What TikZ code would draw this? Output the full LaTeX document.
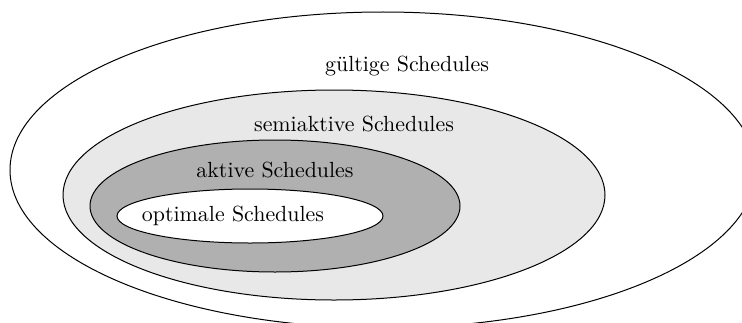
\documentclass[tikz,border=0pt]{standalone}
\usepackage{tikz}
\usetikzlibrary{shapes.geometric}

\begin{document}
\begin{tikzpicture}[x=0.5pt, y=0.5pt,
		menge/.style={ellipse, draw, line width=0.5pt, inner sep=0pt},
		beschr/.style={font=\fontsize{10.95}{13}\selectfont}]
		\useasboundingbox (0,0) rectangle (742,322);
		\clip (0,0) rectangle (742,322);
		\node[menge, minimum width=746pt*0.5, minimum height=316pt*0.5] (gueltig) at (383,152) {};
		\node[menge, fill=black!9, minimum width=542pt*0.5, minimum height=210pt*0.5] (semi) at (334,127) {};
		\node[menge, fill=black!31, minimum width=370pt*0.5, minimum height=132pt*0.5] (aktiv) at (275,116) {};
		\node[menge, fill=white, minimum width=266pt*0.5, minimum height=54pt*0.5] (optimal) at (250,106) {};
		\node[beschr] (l-gueltig) at (407,256) {gültige Schedules};
		\node[beschr] (l-semi) at (354,198) {semiaktive Schedules};
		\node[beschr] (l-aktiv) at (275,152) {aktive Schedules};
		\node[beschr] (l-optimal) at (233,106) {optimale Schedules};
\end{tikzpicture}
\end{document}
